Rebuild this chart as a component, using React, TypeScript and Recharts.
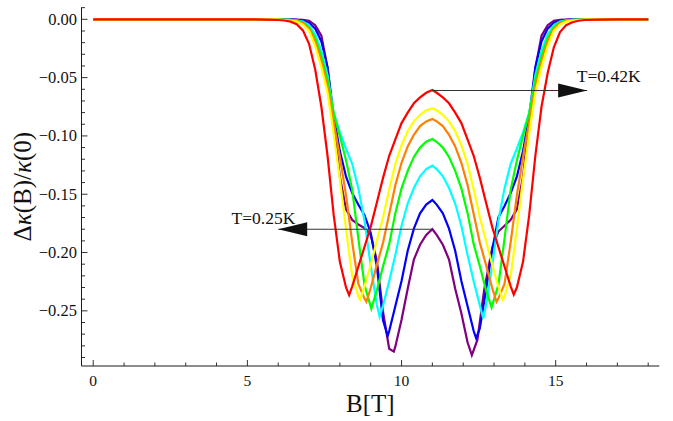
import React from "react";
import { LineChart, Line, XAxis, YAxis, ReferenceLine, ReferenceDot } from "recharts";

type Pt = [number, number];

// B [T] vs Δκ(B)/κ(0), one list per temperature (0.25 K … 0.42 K)
const PURPLE: Pt[] = [
  [0, 0], [5, 0], [6.4, -0.0001], [6.6, -0.0002], [6.8, -0.0004], [7.0, -0.0012], [7.2, -0.005], [7.4, -0.014],
  [7.6, -0.042], [7.8, -0.088], [8.0, -0.135], [8.2, -0.163], [8.4, -0.172], [8.6, -0.176], [8.8, -0.179],
  [9.0, -0.185], [9.2, -0.207], [9.4, -0.251], [9.6, -0.2825], [9.75, -0.285], [9.8, -0.2805], [10.0, -0.2577],
  [10.2, -0.231], [10.4, -0.206], [10.6, -0.1933], [10.8, -0.1849], [11.0, -0.18],
  [11.14, -0.1849], [11.34, -0.1933], [11.54, -0.206], [11.74, -0.231], [11.94, -0.252], [12.14, -0.277],
  [12.28, -0.288], [12.46, -0.275], [12.68, -0.232], [12.95, -0.195], [13.14, -0.182], [13.34, -0.177],
  [13.54, -0.172], [13.74, -0.163], [13.94, -0.135], [14.14, -0.088], [14.34, -0.042], [14.54, -0.014],
  [14.74, -0.005], [14.94, -0.0012], [15.14, -0.0004], [15.34, -0.0002], [15.54, -0.0001], [17, 0], [18, 0],
];

const BLUE: Pt[] = [
  [0, 0], [5, 0], [6.0, -0.0001], [6.4, -0.0002], [6.6, -0.0005], [6.8, -0.0012], [7.0, -0.003], [7.2, -0.008],
  [7.4, -0.019], [7.6, -0.041], [7.8, -0.083], [8.0, -0.113], [8.2, -0.135], [8.4, -0.149], [8.6, -0.159],
  [8.8, -0.168], [9.0, -0.183], [9.2, -0.212], [9.4, -0.258], [9.55, -0.2716], [9.6, -0.2673], [9.8, -0.2458],
  [10.0, -0.2244], [10.2, -0.1985], [10.4, -0.1795], [10.6, -0.1664], [10.8, -0.1589], [11.0, -0.155],
  [11.14, -0.1589], [11.34, -0.1664], [11.54, -0.1795], [11.74, -0.1985], [11.94, -0.2244], [12.14, -0.2458],
  [12.34, -0.2673], [12.42, -0.2735], [12.54, -0.265], [12.74, -0.232], [12.94, -0.198], [13.14, -0.17],
  [13.34, -0.16], [13.54, -0.149], [13.74, -0.135], [13.94, -0.113], [14.14, -0.083], [14.34, -0.041],
  [14.54, -0.019], [14.74, -0.008], [14.94, -0.003], [15.14, -0.0012], [15.34, -0.0005], [15.54, -0.0002],
  [15.94, -0.0001], [17, 0], [18, 0],
];

const CYAN: Pt[] = [
  [0, 0], [5, 0], [6.0, -0.0001], [6.4, -0.0004], [6.6, -0.0008], [6.8, -0.002], [7.0, -0.005], [7.2, -0.013],
  [7.4, -0.027], [7.6, -0.048], [7.8, -0.08], [8.0, -0.097], [8.2, -0.111], [8.4, -0.124], [8.6, -0.145],
  [8.8, -0.173], [9.0, -0.211], [9.2, -0.245], [9.29, -0.2551], [9.4, -0.2455], [9.6, -0.2247], [9.8, -0.202],
  [10.0, -0.177], [10.2, -0.158], [10.4, -0.1447], [10.6, -0.1346], [10.8, -0.1284], [11.0, -0.1255],
  [11.14, -0.1284], [11.34, -0.1346], [11.54, -0.1447], [11.74, -0.158], [11.94, -0.177], [12.14, -0.202],
  [12.34, -0.2247], [12.54, -0.2455], [12.65, -0.2565], [12.74, -0.245], [12.94, -0.211], [13.14, -0.173],
  [13.34, -0.145], [13.54, -0.124], [13.74, -0.111], [13.94, -0.097], [14.14, -0.08], [14.34, -0.048],
  [14.54, -0.027], [14.74, -0.013], [14.94, -0.005], [15.14, -0.002], [15.34, -0.0008], [15.54, -0.0004],
  [15.94, -0.0001], [17, 0], [18, 0],
];

const GREEN: Pt[] = [
  [0, 0], [5, 0], [6.0, -0.0002], [6.2, -0.0003], [6.4, -0.0005], [6.6, -0.001], [6.8, -0.0025], [7.0, -0.007],
  [7.2, -0.016], [7.4, -0.032], [7.6, -0.052], [7.8, -0.081], [8.0, -0.1], [8.2, -0.121], [8.4, -0.146],
  [8.6, -0.188], [8.8, -0.228], [9.02, -0.248], [9.2, -0.2323], [9.4, -0.2118], [9.6, -0.1928], [9.8, -0.166],
  [10.0, -0.145], [10.2, -0.13], [10.4, -0.118], [10.6, -0.11], [10.8, -0.105], [11.0, -0.1027],
  [11.14, -0.105], [11.34, -0.11], [11.54, -0.118], [11.74, -0.13], [11.94, -0.145], [12.14, -0.166],
  [12.34, -0.1928], [12.54, -0.2118], [12.74, -0.2323], [12.92, -0.247], [13.14, -0.228], [13.34, -0.188],
  [13.54, -0.146], [13.74, -0.121], [13.94, -0.1], [14.14, -0.081], [14.34, -0.052], [14.54, -0.032],
  [14.74, -0.016], [14.94, -0.007], [15.14, -0.0025], [15.34, -0.001], [15.54, -0.0005], [15.74, -0.0003],
  [15.94, -0.0002], [17, 0], [18, 0],
];

const ORANGE: Pt[] = [
  [0, 0], [5, 0], [6.0, -0.0002], [6.2, -0.0004], [6.4, -0.0007], [6.6, -0.0015], [6.8, -0.0032], [7.0, -0.008],
  [7.2, -0.019], [7.4, -0.036], [7.6, -0.058], [7.8, -0.088], [8.0, -0.118], [8.2, -0.151], [8.4, -0.191],
  [8.6, -0.227], [8.8, -0.2395], [8.86, -0.2422], [9.0, -0.2304], [9.2, -0.2106], [9.4, -0.1916], [9.6, -0.167],
  [9.8, -0.142], [10.0, -0.123], [10.2, -0.109], [10.4, -0.099], [10.6, -0.0915], [10.8, -0.0875], [11.0, -0.0855],
  [11.14, -0.0875], [11.34, -0.0915], [11.54, -0.099], [11.74, -0.109], [11.94, -0.123], [12.14, -0.142],
  [12.34, -0.167], [12.54, -0.1916], [12.74, -0.2106], [12.94, -0.2304], [13.08, -0.2422], [13.14, -0.2395],
  [13.34, -0.227], [13.54, -0.191], [13.74, -0.151], [13.94, -0.118], [14.14, -0.088], [14.34, -0.058],
  [14.54, -0.036], [14.74, -0.019], [14.94, -0.008], [15.14, -0.0032], [15.34, -0.0015], [15.54, -0.0007],
  [15.74, -0.0004], [15.94, -0.0002], [17, 0], [18, 0],
];

const YELLOW: Pt[] = [
  [0, 0], [5, 0], [5.6, -0.0001], [6.0, -0.0003], [6.2, -0.0006], [6.4, -0.001], [6.6, -0.002], [6.8, -0.0045],
  [7.0, -0.01], [7.2, -0.023], [7.4, -0.041], [7.6, -0.063], [7.8, -0.098], [8.0, -0.137], [8.2, -0.18],
  [8.4, -0.22], [8.6, -0.2375], [8.66, -0.2405], [8.8, -0.229], [9.0, -0.2105], [9.2, -0.19], [9.4, -0.17],
  [9.6, -0.146], [9.8, -0.124], [10.0, -0.108], [10.2, -0.096], [10.4, -0.0875], [10.6, -0.082], [10.8, -0.078],
  [11.0, -0.0764],
  [11.14, -0.078], [11.34, -0.082], [11.54, -0.0875], [11.74, -0.096], [11.94, -0.108], [12.14, -0.124],
  [12.34, -0.146], [12.54, -0.17], [12.74, -0.19], [12.94, -0.2105], [13.14, -0.229], [13.28, -0.2405],
  [13.34, -0.2375], [13.54, -0.22], [13.74, -0.18], [13.94, -0.137], [14.14, -0.098], [14.34, -0.063],
  [14.54, -0.041], [14.74, -0.023], [14.94, -0.01], [15.14, -0.0045], [15.34, -0.002], [15.54, -0.001],
  [15.74, -0.0006], [15.94, -0.0003], [16.34, -0.0001], [17, 0], [18, 0],
];

const RED: Pt[] = [
  [0, 0], [5, 0], [5.6, -0.0002], [6.0, -0.0006], [6.2, -0.001], [6.4, -0.002], [6.6, -0.0042], [6.8, -0.0095],
  [7.0, -0.021], [7.2, -0.043], [7.4, -0.075], [7.6, -0.117], [7.8, -0.168], [8.0, -0.208], [8.2, -0.23],
  [8.3, -0.2365], [8.4, -0.229], [8.6, -0.212], [8.8, -0.195], [9.0, -0.178], [9.2, -0.157], [9.4, -0.136],
  [9.6, -0.117], [9.8, -0.103], [10.0, -0.089], [10.2, -0.08], [10.4, -0.072], [10.6, -0.067], [10.8, -0.063],
  [11.0, -0.0607],
  [11.14, -0.063], [11.34, -0.067], [11.54, -0.072], [11.74, -0.08], [11.94, -0.089], [12.14, -0.103],
  [12.34, -0.117], [12.54, -0.136], [12.74, -0.157], [12.94, -0.178], [13.14, -0.195], [13.34, -0.212],
  [13.54, -0.229], [13.64, -0.236], [13.74, -0.23], [13.94, -0.208], [14.14, -0.168], [14.34, -0.117],
  [14.54, -0.075], [14.74, -0.046], [14.94, -0.024], [15.14, -0.011], [15.34, -0.005], [15.54, -0.0025],
  [15.74, -0.0012], [15.94, -0.0006], [16.34, -0.0002], [17, 0], [18, 0],
];

const SERIES = [
  { key: "purple", color: "#800080", points: PURPLE },
  { key: "blue", color: "#0000FF", points: BLUE },
  { key: "cyan", color: "#00FFFF", points: CYAN },
  { key: "green", color: "#00FF00", points: GREEN },
  { key: "orange", color: "#FF8000", points: ORANGE },
  { key: "yellow", color: "#FFFF00", points: YELLOW },
  { key: "red", color: "#FF0000", points: RED },
];

const X_MAJOR = [0, 5, 10, 15];
const X_MINOR = [1, 2, 3, 4, 6, 7, 8, 9, 11, 12, 13, 14, 16, 17, 18];
const Y_MAJOR = [0, -0.05, -0.1, -0.15, -0.2, -0.25];
const Y_MINOR = [
  0.01, -0.01, -0.02, -0.03, -0.04, -0.06, -0.07, -0.08, -0.09, -0.11, -0.12, -0.13, -0.14,
  -0.16, -0.17, -0.18, -0.19, -0.21, -0.22, -0.23, -0.24, -0.26, -0.27, -0.28, -0.29,
];
const X_TICKS = [...X_MAJOR, ...X_MINOR].sort((a, b) => a - b);
const Y_TICKS = [...Y_MAJOR, ...Y_MINOR].sort((a, b) => b - a);

// annotation arrows: line from a peak to an arrow tip, with a label
const ARROWS = [
  { from: 11.0, to: 16.02, y: -0.061, dir: 1, label: "T=0.42K", labelB: 16.72, labelDy: -8 },
  { from: 11.0, to: 6.0, y: -0.18, dir: -1, label: "T=0.25K", labelB: 5.52, labelDy: -5 },
];

const X_DOMAIN: [number, number] = [-0.38, 18.36];
const Y_DOMAIN: [number, number] = [-0.2973, 0.0103];

const FONT = "'Liberation Serif', 'Times New Roman', Times, serif";
const AXIS = "#1a1a1a";
const MAJOR_LEN = 6;
const MINOR_LEN = 3.5;

const txt = (size: number): React.CSSProperties => ({ fontFamily: FONT, fontSize: size });

const fmtY = (v: number) => (v === 0 ? "0.00" : "\u2212" + Math.abs(v).toFixed(2));

function BottomTick(props: any) {
  const { x, y, payload } = props;
  const major = X_MAJOR.includes(payload.value);
  return (
    <g>
      <line x1={x} y1={y} x2={x} y2={y - (major ? MAJOR_LEN : MINOR_LEN)} stroke={AXIS} strokeWidth={0.9} />
      {major && (
        <text x={x} y={y + 20} textAnchor="middle" style={txt(15.5)} fill="#111">
          {payload.value}
        </text>
      )}
    </g>
  );
}

function TopTick(props: any) {
  const { x, y, payload } = props;
  const major = X_MAJOR.includes(payload.value);
  return <line x1={x} y1={y} x2={x} y2={y + (major ? MAJOR_LEN : MINOR_LEN)} stroke={AXIS} strokeWidth={0.9} />;
}

function LeftTick(props: any) {
  const { x, y, payload } = props;
  const major = Y_MAJOR.includes(payload.value);
  return (
    <g>
      <line x1={x} y1={y} x2={x + (major ? MAJOR_LEN : MINOR_LEN)} y2={y} stroke={AXIS} strokeWidth={0.9} />
      {major && (
        <text x={x - 4.5} y={y + 5.3} textAnchor="end" style={txt(16.5)} fill="#111">
          {fmtY(payload.value)}
        </text>
      )}
    </g>
  );
}

function RightTick(props: any) {
  const { x, y, payload } = props;
  const major = Y_MAJOR.includes(payload.value);
  return <line x1={x} y1={y} x2={x - (major ? MAJOR_LEN : MINOR_LEN)} y2={y} stroke={AXIS} strokeWidth={0.9} />;
}

const yLabel = (p: any) => {
  const vb = p && p.viewBox ? p.viewBox : { x: 0, y: 7.3, width: 81.5, height: 358.7 };
  const cx = vb.x + 23.5;
  const cy = vb.y + vb.height / 2;
  return (
    <g transform={`translate(${cx},${cy}) rotate(-90)`}>
      <text x={0} y={7} textAnchor="middle" style={txt(25)} fill="#111">
        {"\u0394"}
        <tspan fontStyle="italic">{"\u03BA"}</tspan>
        {"(B)/"}
        <tspan fontStyle="italic">{"\u03BA"}</tspan>
        {"(0)"}
      </text>
    </g>
  );
};

const xLabel = (p: any) => {
  const vb = p && p.viewBox ? p.viewBox : { x: 81.5, y: 366, width: 577.8, height: 55 };
  return (
    <text x={vb.x + vb.width / 2} y={vb.y + 46} textAnchor="middle" style={txt(25)} fill="#111">
      B[T]
    </text>
  );
};

const headShape = (dir: number) => (p: any) => {
  const { cx, cy } = p;
  const L = 29;
  const H = 7;
  const pts = `${cx},${cy} ${cx - dir * L},${cy - H} ${cx - dir * L},${cy + H}`;
  return <polygon points={pts} fill="#111" />;
};

const textShape = (label: string, dy: number) => (p: any) => {
  const { cx, cy } = p;
  return (
    <text x={cx} y={cy + dy} textAnchor="middle" style={txt(17.5)} fill="#111">
      {label}
    </text>
  );
};

export default function App() {
  return (
    <div style={{ position: "absolute", left: 0, top: 0, width: 673, height: 421, background: "#fff" }}>
      <LineChart width={673} height={421} margin={{ top: 7.3, right: 13.7, bottom: 0, left: 0 }}>
        <XAxis
          xAxisId={0}
          type="number"
          dataKey="b"
          domain={X_DOMAIN}
          allowDataOverflow
          ticks={X_TICKS}
          interval={0}
          tickSize={0}
          tickMargin={0}
          tickLine={false}
          tick={<BottomTick />}
          axisLine={{ stroke: AXIS, strokeWidth: 1 }}
          height={54.997}
          label={xLabel}
        />
        <XAxis
          xAxisId="top"
          orientation="top"
          type="number"
          dataKey="b"
          domain={X_DOMAIN}
          allowDataOverflow
          ticks={X_TICKS}
          interval={0}
          tickSize={0}
          tickMargin={0}
          tickLine={false}
          tick={<TopTick />}
          axisLine={{ stroke: AXIS, strokeWidth: 1 }}
          height={0}
        />
        <YAxis
          yAxisId={0}
          type="number"
          domain={Y_DOMAIN}
          allowDataOverflow
          ticks={Y_TICKS}
          interval={0}
          tickSize={0}
          tickMargin={0}
          tickLine={false}
          tick={<LeftTick />}
          axisLine={{ stroke: AXIS, strokeWidth: 1 }}
          width={81.5}
          label={yLabel}
        />
        <YAxis
          yAxisId="right"
          orientation="right"
          type="number"
          domain={Y_DOMAIN}
          allowDataOverflow
          ticks={Y_TICKS}
          interval={0}
          tickSize={0}
          tickMargin={0}
          tickLine={false}
          tick={<RightTick />}
          axisLine={{ stroke: AXIS, strokeWidth: 1 }}
          width={0}
        />
        {SERIES.map((s) => (
          <Line
            key={s.key}
            data={s.points.map(([b, v]) => ({ b, v }))}
            dataKey="v"
            type="linear"
            stroke={s.color}
            strokeWidth={2.2}
            dot={false}
            activeDot={false}
            isAnimationActive={false}
            xAxisId={0}
            yAxisId={0}
          />
        ))}
        {ARROWS.map((a) => (
          <ReferenceLine
            key={"l" + a.label}
            xAxisId={0}
            yAxisId={0}
            segment={[{ x: a.from, y: a.y }, { x: a.to, y: a.y }]}
            stroke="#333"
            strokeWidth={1.1}
            ifOverflow="visible"
          />
        ))}
        {ARROWS.map((a) => (
          <ReferenceDot
            key={"h" + a.label}
            xAxisId={0}
            yAxisId={0}
            x={a.to}
            y={a.y}
            r={1}
            ifOverflow="visible"
            shape={headShape(a.dir)}
          />
        ))}
        {ARROWS.map((a) => (
          <ReferenceDot
            key={"t" + a.label}
            xAxisId={0}
            yAxisId={0}
            x={a.labelB}
            y={a.y}
            r={1}
            ifOverflow="visible"
            shape={textShape(a.label, a.labelDy)}
          />
        ))}
      </LineChart>
    </div>
  );
}
